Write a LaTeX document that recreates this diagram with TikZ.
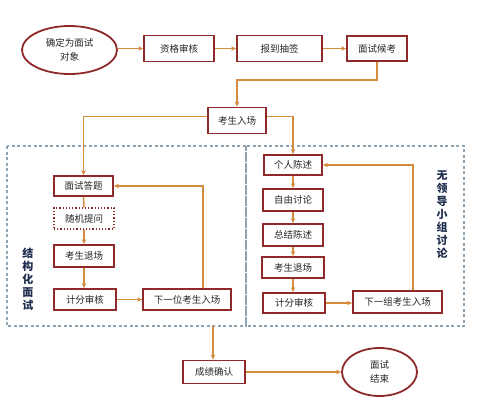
\documentclass[tikz,border=0pt]{standalone}
\usepackage{fontspec}
\setmainfont{Noto Sans CJK SC}
\usetikzlibrary{arrows.meta,shapes.geometric}
\definecolor{boxred}{HTML}{8E2A2A}
\definecolor{conn}{HTML}{D58B3E}
\definecolor{dashc}{HTML}{8FA4B2}
\definecolor{navy}{HTML}{1F2D4D}
\tikzset{
  box/.style={draw=boxred, line width=1.8pt, fill=white, rectangle, inner sep=0pt, font=\fontsize{9.5}{10}\selectfont, text=black!85},
  dotbox/.style={draw=boxred, line width=1.2pt, dotted, fill=white, rectangle, inner sep=0pt, font=\fontsize{9.5}{10}\selectfont, text=black!85},
  oval/.style={draw=boxred, line width=1.8pt, fill=white, ellipse, inner sep=0pt, align=center, font=\fontsize{9.5}{14}\selectfont, text=black!85},
  arr/.style={draw=conn, line width=1.5pt, -{Stealth[length=5pt,width=4.5pt]}},
  ln/.style={draw=conn, line width=1.5pt},
  region/.style={draw=dashc, line width=1.1pt, dash pattern=on 3pt off 2.5pt},
  vlabel/.style={align=center, font=\bfseries\fontsize{11}{13}\selectfont, text=navy, inner sep=0pt}
}
\begin{document}
\begin{tikzpicture}[x=1pt,y=-1pt]
\useasboundingbox (0,0) rectangle (499,410);
% dashed regions
\draw[region] (7,146) rectangle (246,326);
\draw[region] (246,146) rectangle (464,326);
% top row
\node[oval, minimum width=95pt, minimum height=48pt] (e1) at (69.5,50) {确定为面试\\对象};
\node[box, minimum width=70pt, minimum height=26pt] (zg) at (179,48.5) {资格审核};
\node[box, minimum width=85pt, minimum height=26pt] (bd) at (279.5,48.5) {报到抽签};
\node[box, minimum width=60pt, minimum height=25pt] (hk) at (377,48.5) {面试候考};
\node[box, minimum width=58pt, minimum height=26pt] (rc) at (237,120.5) {考生入场};
% left group
\node[box, minimum width=59pt, minimum height=20pt] (ms) at (83.5,186) {面试答题};
\node[dotbox, minimum width=60pt, minimum height=21pt] (sj) at (84,218.5) {随机提问};
\node[box, minimum width=60pt, minimum height=22pt] (tl) at (84,256) {考生退场};
\node[box, minimum width=62pt, minimum height=21pt] (jl) at (85,299.5) {计分审核};
\node[box, minimum width=88pt, minimum height=21pt] (nl) at (187,299.5) {下一位考生入场};
\node[vlabel] (lab1) at (28,279) {结\\构\\化\\面\\试};
% right group
\node[box, minimum width=58pt, minimum height=20pt] (gr) at (293,165) {个人陈述};
\node[box, minimum width=60pt, minimum height=22pt] (zy) at (293,200) {自由讨论};
\node[box, minimum width=60pt, minimum height=22pt] (zj) at (293,235) {总结陈述};
\node[box, minimum width=62pt, minimum height=21pt] (tr) at (293,267.5) {考生退场};
\node[box, minimum width=62pt, minimum height=20pt] (jr) at (294,303) {计分审核};
\node[box, minimum width=89pt, minimum height=22pt] (nr) at (397.5,302) {下一组考生入场};
\node[vlabel, fill=white, inner sep=2pt] (lab2) at (442,215) {无\\领\\导\\小\\组\\讨\\论};
% bottom
\node[box, minimum width=62pt, minimum height=23pt] (cj) at (214,372) {成绩确认};
\node[oval, minimum width=75pt, minimum height=48pt] (end) at (379.5,372) {面试\\结束};
\coordinate (j1) at (300,80);
\coordinate (b1) at (213,326);
% connectors
\draw[arr] (e1.east |- zg.west) -- (zg.west);
\draw[arr] (zg.east) -- (bd.west);
\draw[arr] (bd.east) -- (hk.west);
\draw[arr] (hk.south) |- (j1) -| (rc.north);
\draw[arr] ([yshift=4pt]rc.west) -| (ms.north);
\draw[arr] ([yshift=4pt]rc.east) -| (gr.north);
\draw[ln] (ms.south) -- (sj.north);
\draw[arr] (sj.south) -- (tl.north);
\draw[arr] (tl.south) -- (jl.north -| tl.south);
\draw[arr] (jl.east) -- (nl.west);
\draw[arr] ([xshift=16pt]nl.north) |- (ms.east);
\draw[arr] (gr.south) -- (zy.north);
\draw[arr] (zy.south) -- (zj.north);
\draw[arr] (zj.south) -- (tr.north);
\draw[arr] (tr.south) -- (jr.north -| tr.south);
\draw[arr] (jr.east) -- (nr.west |- jr.east);
\draw[arr] ([xshift=15.5pt]nr.north) |- (gr.east);
\draw[arr] (b1) -- (cj.north -| b1);
\draw[arr] (cj.east) -- (end.west |- cj.east);
\end{tikzpicture}
\end{document}
